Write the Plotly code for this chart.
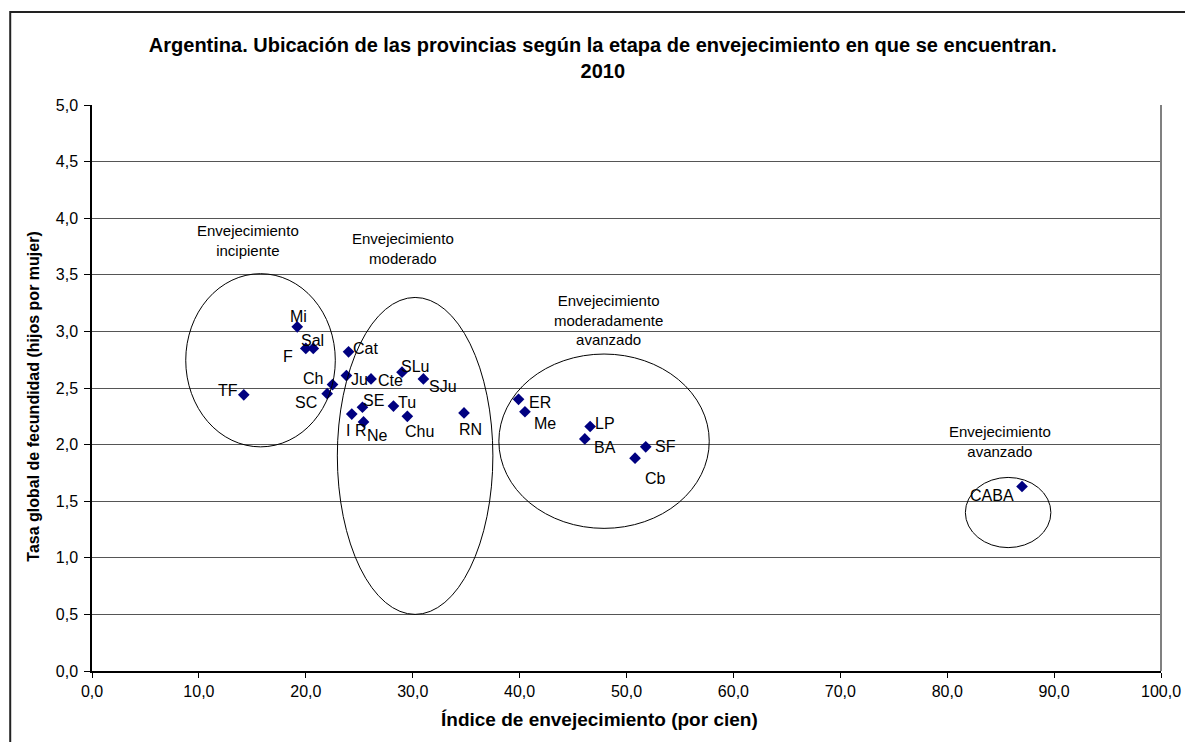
import plotly.graph_objects as go

# provincias: indice de envejecimiento (x) y tasa global de fecundidad (y)
provincias = ["TF", "Mi", "F", "Sal", "Ch", "SC", "Cat", "Ju", "Cte", "SLu", "SJu", "I R",
              "SE", "Ne", "Tu", "Chu", "RN", "ER", "Me", "LP", "BA", "SF", "Cb", "CABA"]
indice = [14.2, 19.2, 20.0, 20.7, 22.5, 22.0, 24.0, 23.8, 26.1, 29.0, 31.0, 24.3,
          25.3, 25.4, 28.2, 29.5, 34.8, 39.9, 40.5, 46.6, 46.1, 51.8, 50.8, 87.0]
tgf = [2.44, 3.04, 2.85, 2.85, 2.53, 2.45, 2.82, 2.61, 2.58, 2.64, 2.58, 2.27,
       2.33, 2.20, 2.34, 2.25, 2.28, 2.40, 2.29, 2.16, 2.05, 1.98, 1.88, 1.63]

# etapas de envejecimiento (texto y elipse que las rodea, en unidades de los ejes)
etapas = ["Envejecimiento<br>incipiente", "Envejecimiento<br>moderado",
          "Envejecimiento<br>moderadamente<br>avanzado", "Envejecimiento<br>avanzado"]
elipses = [(8.77, 1.98, 22.76, 3.51), (22.95, 0.50, 37.5, 3.30),
           (38.06, 1.26, 57.74, 2.80), (81.7, 1.09, 89.7, 1.71)]
pos_etapas = [(14.55, 3.80), (29.1, 3.73), (48.3, 3.10), (84.9, 2.03)]

# desplazamiento de las etiquetas en pixeles (dx, dy hacia abajo)
desplaz = {"TF": (-16, -4), "Mi": (1, -10), "F": (-18, 8), "Sal": (-1, -8),
           "Ch": (-20, -6), "SC": (-21, 9), "Cat": (17, -3), "Ju": (13, 4),
           "Cte": (19, 2), "SLu": (13, -6), "SJu": (20, 8), "I R": (4, 16),
           "SE": (11, -7), "Ne": (14, 14), "Tu": (14, -4), "Chu": (12, 15),
           "RN": (6, 17), "ER": (21, 3), "Me": (20, 12), "LP": (15, -3),
           "BA": (20, 9), "SF": (20, 0), "Cb": (20, 20), "CABA": (-30, 9)}

FONT = "Liberation Sans, Arial, sans-serif"

fig = go.Figure()
fig.add_trace(go.Scatter(x=indice, y=tgf, mode="markers",
                         marker=dict(symbol="diamond", size=9, color="#000080"),
                         hoverinfo="text", text=provincias))

for p, x, y in zip(provincias, indice, tgf):
    dx, dy = desplaz[p]
    fig.add_annotation(x=x, y=y, text=p, showarrow=False, xshift=dx, yshift=-dy,
                       font=dict(size=16, color="black", family=FONT))

for (x0, y0, x1, y1) in elipses:
    fig.add_shape(type="circle", xref="x", yref="y", x0=x0, y0=y0, x1=x1, y1=y1,
                  line=dict(color="black", width=1))

for t, (x, y) in zip(etapas, pos_etapas):
    fig.add_annotation(x=x, y=y, text=t, showarrow=False,
                       font=dict(size=15, color="black", family=FONT))

# borde derecho del area de trazado
fig.add_shape(type="line", xref="paper", yref="paper", x0=1, x1=1, y0=0, y1=1,
              line=dict(color="#808080", width=2))
# marco exterior del grafico
fig.add_shape(type="rect", xref="paper", yref="paper", x0=-0.0765, y0=-0.3, x1=1.2, y1=1.1643,
              line=dict(color="#222222", width=2))

fig.add_annotation(xref="paper", yref="paper", x=0.475, y=-0.085, yanchor="middle",
                   text="<b>Índice de envejecimiento (por cien)</b>", showarrow=False,
                   font=dict(size=19, color="black", family=FONT))
fig.add_annotation(xref="paper", yref="paper", x=-0.0550, y=0.485, textangle=-90,
                   xanchor="center", yanchor="middle",
                   text="<b>Tasa global de fecundidad (hijos por mujer)</b>", showarrow=False,
                   font=dict(size=16, color="black", family=FONT))

fig.update_layout(
    width=1185, height=734,
    margin=dict(l=84, r=29, t=97, b=71),
    paper_bgcolor="white", plot_bgcolor="white",
    separators=",.",
    showlegend=False,
    font=dict(family=FONT, size=15, color="black"),
    title=dict(text="<b>Argentina. Ubicación de las provincias según la etapa de envejecimiento en que se encuentran.<br>2010</b>",
               x=0.502, xanchor="center", y=0.94, yanchor="middle",
               font=dict(size=20, color="black", family=FONT)),
    xaxis=dict(range=[0, 100], dtick=10, tick0=0, tickformat=".1f", showgrid=False,
               zeroline=False, showline=True, linecolor="black", linewidth=1.5,
               ticks="outside", ticklen=5, tickcolor="black", fixedrange=True,
               tickfont=dict(size=16)),
    yaxis=dict(range=[0, 5], dtick=0.5, tick0=0, tickformat=".1f", showgrid=True,
               gridcolor="#555555", gridwidth=1, zeroline=False, showline=True,
               linecolor="black", linewidth=1.5, ticks="outside", ticklen=6,
               tickcolor="black", fixedrange=True, tickfont=dict(size=16),
               ticklabelstandoff=3),
)

fig.write_html("out.html")
